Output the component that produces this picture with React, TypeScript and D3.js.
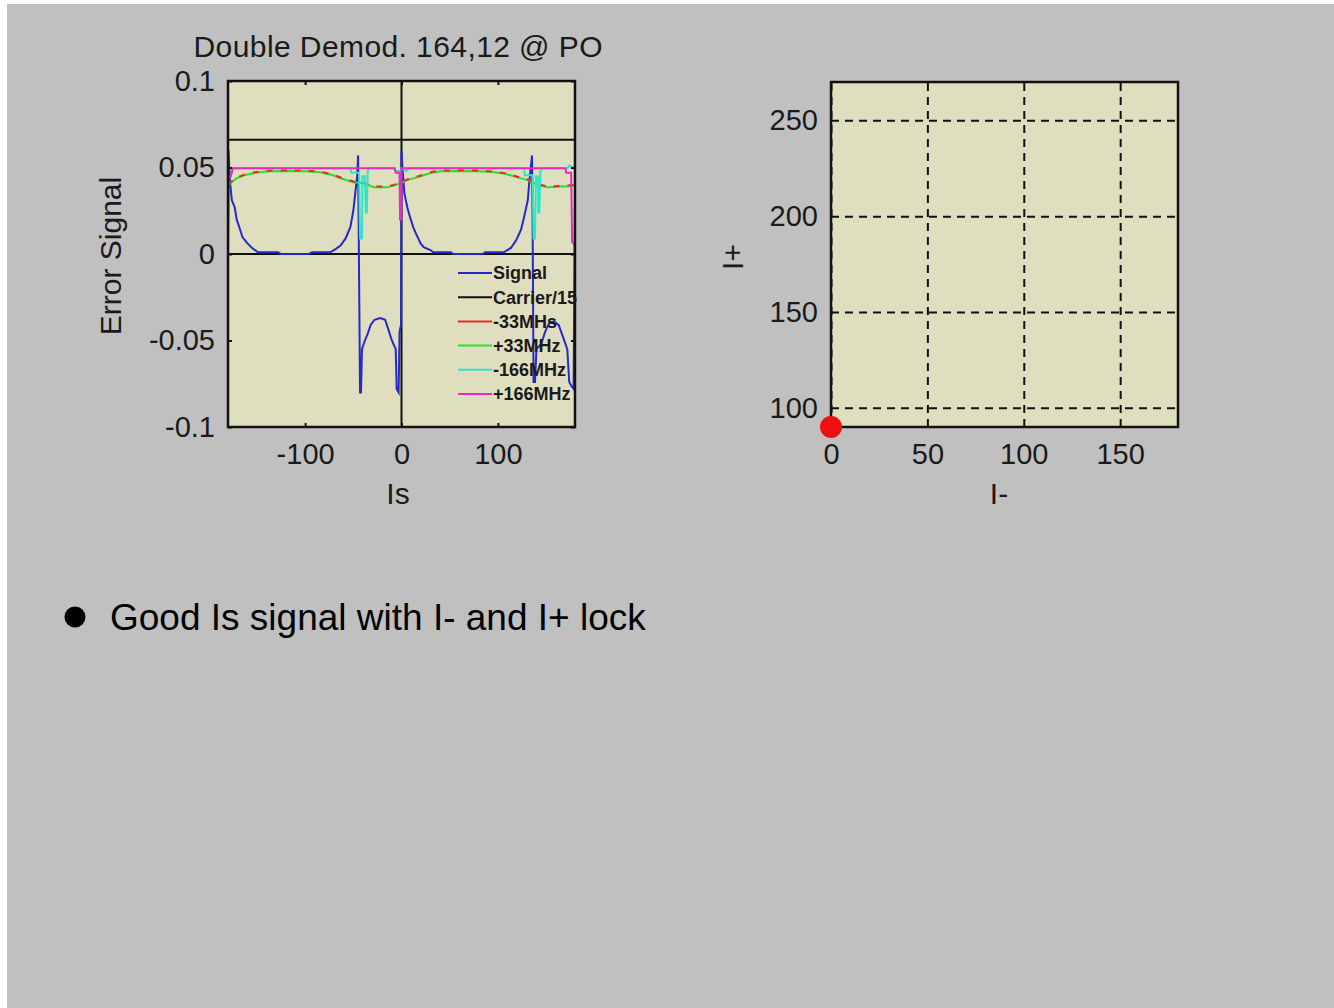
import React, { useEffect, useRef } from 'react';
import * as d3 from 'd3';

type Pt = [number, number];

// axis ticks
const isTicks = [-100, 0, 100];
const errTicks = [0.1, 0.05, 0, -0.05, -0.1];
const errTickLabels = ['0.1', '0.05', '0', '-0.05', '-0.1'];
const iMinusTicks = [0, 50, 100, 150];
const iPlusTicks = [100, 150, 200, 250];

// error signal vs Is
const signal: Pt[] = [
  [-180, -0.01], [-179.5, 0.06], [-178, 0.042], [-176, 0.031], [-173, 0.027], [-171, 0.02],
  [-168, 0.015], [-165, 0.0098], [-160, 0.0063], [-155, 0.0035], [-149, 0.001], [-128, 0.001],
  [-125, 0], [-96, 0], [-93, 0.001], [-74, 0.001], [-68, 0.003], [-63, 0.005], [-58, 0.009],
  [-53, 0.0156], [-50, 0.025], [-48, 0.035], [-46, 0.045], [-45, 0.057], [-44.5, 0.02],
  [-43, -0.08], [-42, -0.08], [-41, -0.055], [-38, -0.05], [-35, -0.046], [-32, -0.041],
  [-28, -0.038], [-22, -0.037], [-17, -0.038], [-14, -0.043], [-10, -0.05], [-6, -0.055],
  [-5, -0.078], [-3, -0.08], [-2, -0.045], [-0.5, -0.041], [0, 0.06],
  [1, 0.05], [3, 0.035], [6, 0.027], [9, 0.021], [12.5, 0.015], [16.7, 0.0098], [20, 0.006],
  [23, 0.004], [30, 0.0023], [33, 0.001], [51, 0.001], [54, 0], [84, 0], [87, 0.001],
  [106, 0.001], [113.5, 0.0035], [119, 0.008], [124, 0.014], [127, 0.021], [131, 0.031],
  [132.5, 0.041], [135.4, 0.057], [136, 0.02], [137, -0.074], [138.5, -0.074], [140, -0.055],
  [145, -0.052], [149, -0.045], [153, -0.04], [158, -0.039], [163, -0.041], [167, -0.047],
  [172, -0.055], [174, -0.074], [176, -0.076], [178.5, -0.078], [180, 0.03],
];
const carrier: Pt[] = [[-180, 0.066], [180, 0.066]];
const minus33: Pt[] = [
  [-180, 0.0402], [-175, 0.0424], [-171, 0.0442], [-163, 0.0459], [-154, 0.0471], [-145, 0.0478],
  [-136, 0.0482], [-119, 0.0484], [-100, 0.0482], [-84, 0.0476], [-71, 0.0459], [-63, 0.0442],
  [-56, 0.0429], [-50, 0.0419], [-40, 0.0413], [-33, 0.0399], [-29, 0.039], [-15, 0.039],
  [-8, 0.0399], [-1, 0.0414], [6, 0.0431], [14, 0.0444], [23, 0.0459], [31, 0.0474], [41, 0.0482],
  [58, 0.0484], [80, 0.0482], [96, 0.0476], [106, 0.0469], [113, 0.0459], [122, 0.0444],
  [131, 0.0431], [137, 0.0414], [145, 0.0399], [152, 0.039], [165, 0.0394], [173, 0.0396],
  [180, 0.0402],
];
const plus33: Pt[] = [
  [-180, 0.0398], [-175, 0.042], [-171, 0.0438], [-163, 0.0455], [-154, 0.0467], [-145, 0.0474],
  [-136, 0.0478], [-119, 0.048], [-100, 0.0478], [-84, 0.0472], [-71, 0.0455], [-63, 0.0438],
  [-56, 0.0425], [-50, 0.0415], [-40, 0.041], [-33, 0.0395], [-29, 0.0386], [-15, 0.0386],
  [-8, 0.0395], [-1, 0.041], [6, 0.0427], [14, 0.044], [23, 0.0455], [31, 0.047], [41, 0.0478],
  [58, 0.048], [80, 0.0478], [96, 0.0472], [106, 0.0465], [113, 0.0455], [122, 0.044],
  [131, 0.0427], [137, 0.041], [145, 0.0395], [152, 0.0386], [165, 0.039], [173, 0.0392],
  [180, 0.0398],
];
const minus166: Pt[] = [
  [-180, 0.0496], [-53, 0.0496], [-52, 0.047], [-44, 0.047], [-43, 0.009], [-41, 0.009],
  [-40.5, 0.045], [-38, 0.045], [-37, 0.024], [-36, 0.024], [-35, 0.048], [-34, 0.0496],
  [-8, 0.0496], [-6, 0.048], [-1, 0.048], [0, 0.0496], [5, 0.048], [8, 0.0496],
  [127, 0.0496], [128, 0.0455], [136, 0.0455], [137, 0.009], [138.5, 0.009], [139.5, 0.045],
  [141.5, 0.045], [142, 0.024], [143, 0.024], [144, 0.048], [146, 0.0496], [172, 0.0496],
  [174, 0.051], [180, 0.0496],
];
const plus166: Pt[] = [
  [-180, 0], [-179.5, 0.045], [-177, 0.045], [-175, 0.0495], [-7, 0.0495], [-6, 0.047],
  [-2, 0.047], [-1.5, 0.02], [-0.5, 0.02], [0, 0.0495], [170, 0.0495], [171, 0.047],
  [176, 0.047], [177, 0.007], [180, 0.005],
];

// I- / I+ lock point
const lockPoints: Pt[] = [[0, 90]];

const legendLabels = ['Signal', 'Carrier/15', '-33MHs', '+33MHz', '-166MHz', '+166MHz'];
const seriesColors = ['#2828c8', '#111111', '#e82a2a', '#28e028', '#30e4c4', '#e42cc0'];

const FONT = '"Liberation Sans", Arial, sans-serif';
const BG = '#dfdfbf';
const fmt = (d: d3.NumberValue) => String(d);

const App = () => {
  const ref = useRef<SVGSVGElement>(null);

  useEffect(() => {
    const svg = d3.select(ref.current);
    svg.selectAll('*').remove();

    svg.append('rect').attr('x', 7).attr('y', 4).attr('width', 1334).attr('height', 1008).attr('fill', '#c0c0c0');

    // ---------- left plot ----------
    const xL = d3.scaleLinear().domain([-180, 180]).range([228, 575]);
    const yL = d3.scaleLinear().domain([-0.1, 0.1]).range([427, 81]);

    const left = svg.append('g');
    left.append('rect').attr('x', 228).attr('y', 81).attr('width', 347).attr('height', 346).attr('fill', BG);

    svg.append('defs').append('clipPath').attr('id', 'clipL')
      .append('rect').attr('x', 228).attr('y', 81).attr('width', 347).attr('height', 346);

    const plot = left.append('g').attr('clip-path', 'url(#clipL)');
    // zero lines
    plot.append('line').attr('x1', xL(-180)).attr('x2', xL(180)).attr('y1', yL(0)).attr('y2', yL(0))
      .attr('stroke', '#111').attr('stroke-width', 2);
    plot.append('line').attr('x1', xL(0)).attr('x2', xL(0)).attr('y1', yL(-0.1)).attr('y2', yL(0.1))
      .attr('stroke', '#111').attr('stroke-width', 2);

    const line = d3.line<Pt>().x((d) => xL(d[0])).y((d) => yL(d[1]));
    const series: Pt[][] = [signal, carrier, plus33, minus33, minus166, plus166];
    const colorIdx = [0, 1, 3, 2, 4, 5];
    series.forEach((s, i) => {
      const p = plot.append('path').attr('d', line(s)).attr('fill', 'none')
        .attr('stroke', seriesColors[colorIdx[i]]).attr('stroke-width', 2);
      if (colorIdx[i] === 2) p.attr('stroke-dasharray', '6,8');
    });

    // axes (inward ticks)
    const tickFont = (g: d3.Selection<SVGGElement, unknown, null, undefined>) => {
      g.select('.domain').remove();
      g.selectAll('text').attr('font-family', FONT).attr('font-size', 29).attr('fill', '#1a1a1a');
      g.selectAll('line').attr('stroke', '#111').attr('stroke-width', 2);
    };
    left.append('g').attr('transform', 'translate(0,427)')
      .call(d3.axisBottom(xL).tickValues(isTicks).tickSizeInner(-4).tickSizeOuter(0).tickPadding(16).tickFormat(fmt))
      .call(tickFont);
    left.append('g').attr('transform', 'translate(0,81)')
      .call(d3.axisTop(xL).tickValues(isTicks).tickSizeInner(-4).tickSizeOuter(0).tickFormat(() => ''))
      .call(tickFont);
    left.append('g').attr('transform', 'translate(228,0)')
      .call(d3.axisLeft(yL).tickValues(errTicks).tickSizeInner(-4).tickSizeOuter(0).tickPadding(13)
        .tickFormat((_, i) => errTickLabels[i]))
      .call(tickFont);
    left.append('g').attr('transform', 'translate(575,0)')
      .call(d3.axisRight(yL).tickValues(errTicks).tickSizeInner(-4).tickSizeOuter(0).tickFormat(() => ''))
      .call(tickFont);

    left.append('rect').attr('x', 228).attr('y', 81).attr('width', 347).attr('height', 346)
      .attr('fill', 'none').attr('stroke', '#111').attr('stroke-width', 2.5);

    // legend
    const leg = left.append('g');
    legendLabels.forEach((lab, i) => {
      const ly = 273 + i * 24.2;
      leg.append('line').attr('x1', 458).attr('x2', 492).attr('y1', ly).attr('y2', ly)
        .attr('stroke', seriesColors[i]).attr('stroke-width', 2);
      leg.append('text').attr('x', 493).attr('y', ly).attr('dy', '0.36em').text(lab)
        .attr('font-family', FONT).attr('font-size', 18).attr('font-weight', 'bold').attr('fill', '#1a1a1a');
    });

    svg.append('text').attr('x', 398).attr('y', 57).attr('text-anchor', 'middle')
      .attr('font-family', FONT).attr('font-size', 30).attr('fill', '#1a1a1a')
      .attr('textLength', 409).attr('lengthAdjust', 'spacing')
      .text('Double Demod. 164,12 @ PO');
    svg.append('text').attr('x', 398).attr('y', 504).attr('text-anchor', 'middle')
      .attr('font-family', FONT).attr('font-size', 30).attr('fill', '#1a1a1a').text('Is');
    svg.append('text').attr('transform', 'translate(121,256) rotate(-90)').attr('text-anchor', 'middle')
      .attr('font-family', FONT).attr('font-size', 30).attr('fill', '#1a1a1a').text('Error Signal');

    // ---------- right plot ----------
    const xR = d3.scaleLinear().domain([0, 180]).range([831, 1178]);
    const yR = d3.scaleLinear().domain([90, 270]).range([427, 82]);
    const right = svg.append('g');
    right.append('rect').attr('x', 831).attr('y', 82).attr('width', 347).attr('height', 345).attr('fill', BG);

    const gridStyle = (g: d3.Selection<SVGGElement, unknown, null, undefined>) => {
      g.select('.domain').remove();
      g.selectAll('text').attr('font-family', FONT).attr('font-size', 29).attr('fill', '#1a1a1a');
      g.selectAll('line').attr('stroke', '#111').attr('stroke-width', 2).attr('stroke-dasharray', '8,6');
    };
    right.append('g').attr('transform', 'translate(0,427)')
      .call(d3.axisBottom(xR).tickValues(iMinusTicks).tickSizeInner(-345).tickSizeOuter(0).tickPadding(16).tickFormat(fmt))
      .call(gridStyle);
    right.append('g').attr('transform', 'translate(831,0)')
      .call(d3.axisLeft(yR).tickValues(iPlusTicks).tickSizeInner(-347).tickSizeOuter(0).tickPadding(13).tickFormat(fmt))
      .call(gridStyle);

    right.append('rect').attr('x', 831).attr('y', 82).attr('width', 347).attr('height', 345)
      .attr('fill', 'none').attr('stroke', '#111').attr('stroke-width', 2.5);

    right.selectAll('circle.pt').data(lockPoints).enter().append('circle')
      .attr('cx', (d) => xR(d[0])).attr('cy', (d) => yR(d[1])).attr('r', 11).attr('fill', '#ee1010');

    svg.append('text').attr('x', 999).attr('y', 504).attr('text-anchor', 'middle')
      .attr('font-family', FONT).attr('font-size', 30).attr('fill', '#1a1a1a').text('I-');
    svg.append('text').attr('transform', 'translate(743,257) rotate(-90)').attr('text-anchor', 'middle')
      .attr('font-family', FONT).attr('font-size', 30).attr('fill', '#1a1a1a').text('I+');

    // ---------- bullet ----------
    svg.append('circle').attr('cx', 75).attr('cy', 617).attr('r', 10.5).attr('fill', '#000');
    svg.append('text').attr('x', 110).attr('y', 630).attr('font-family', FONT).attr('font-size', 37)
      .attr('fill', '#000').text('Good Is signal with I- and I+ lock');
  }, []);

  return (
    <svg ref={ref} width={1334} height={1008}
      style={{ position: 'absolute', left: 0, top: 0, display: 'block' }} />
  );
};

export default App;
